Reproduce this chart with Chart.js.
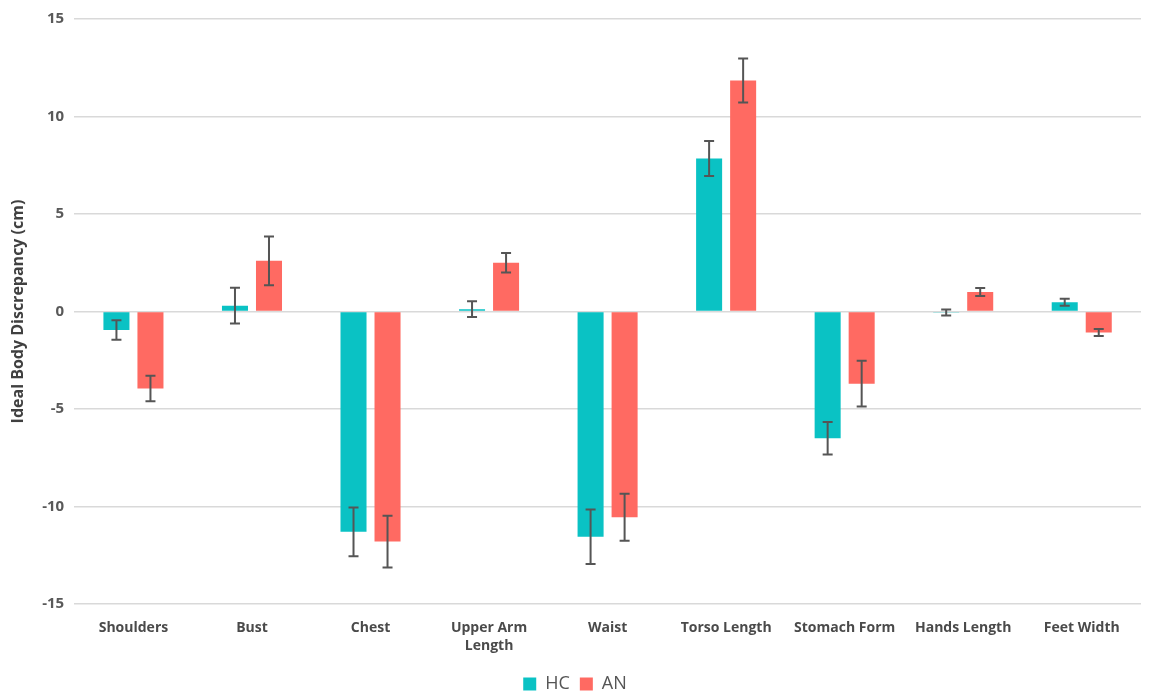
<!DOCTYPE html>
<html>
<head>
<meta charset="utf-8">
<title>Ideal Body Discrepancy</title>
<script src="https://cdn.jsdelivr.net/npm/chart.js@4"></script>
<style>
  html, body { margin: 0; padding: 0; background: #fff; }
  #wrap { width: 1152px; height: 693px; position: relative; }
</style>
</head>
<body>
<div id="wrap"><canvas id="grafico"></canvas></div>
<script>
/* --------------- datos --------------- */
const labels = ['Shoulders', 'Bust', 'Chest', ['Upper Arm', 'Length'], 'Waist', 'Torso Length', 'Stomach Form', 'Hands Length', 'Feet Width'];
const HC = [-0.95, 0.3, -11.3, 0.12, -11.55, 7.85, -6.5, -0.05, 0.47];
const HC_ERR = [0.5, 0.92, 1.25, 0.4, 1.4, 0.9, 0.83, 0.15, 0.18];
const AN = [-3.95, 2.6, -11.8, 2.5, -10.55, 11.85, -3.7, 1.0, -1.08];
const AN_ERR = [0.65, 1.25, 1.33, 0.5, 1.2, 1.13, 1.17, 0.2, 0.18];
const yTicks = [-15, -10, -5, 0, 5, 10, 15];

/* --------------- barras de error --------------- */
const barrasError = {
    id: 'barrasError',
    afterDatasetsDraw(chart) {
        const ctx = chart.ctx;
        const y = chart.scales.y;
        chart.data.datasets.forEach((ds, i) => {
            const meta = chart.getDatasetMeta(i);
            meta.data.forEach((bar, j) => {
                const v = ds.data[j], e = ds.errores[j];
                const top = y.getPixelForValue(v + e);
                const bot = y.getPixelForValue(v - e);
                ctx.save();
                ctx.strokeStyle = '#555555';
                ctx.lineWidth = 2;
                ctx.beginPath();
                ctx.moveTo(bar.x, top); ctx.lineTo(bar.x, bot);
                ctx.moveTo(bar.x - 5, top); ctx.lineTo(bar.x + 5, top);
                ctx.moveTo(bar.x - 5, bot); ctx.lineTo(bar.x + 5, bot);
                ctx.stroke();
                ctx.restore();
            });
        });
    }
};

document.addEventListener('DOMContentLoaded', () => {
    const data = {
        labels: labels,
        datasets: [
            {
                label: 'HC',
                data: HC,
                errores: HC_ERR,
                backgroundColor: '#0AC2C4',
                barPercentage: 0.765,
                categoryPercentage: 0.574
            },
            {
                label: 'AN',
                data: AN,
                errores: AN_ERR,
                backgroundColor: '#FF6A62',
                barPercentage: 0.765,
                categoryPercentage: 0.574
            }
        ]
    };

    const config = {
        responsive: true,
        maintainAspectRatio: false,
        animation: false,
        // el relleno inferior negativo baja la leyenda al borde
        layout: { padding: { top: 0, right: 11, left: 9, bottom: -10 } },
        scales: {
            x: {
                grid: { display: false },
                border: { display: false },
                afterFit: (scale) => { scale.height = 61; },
                ticks: {
                    color: '#4a4a4a',
                    font: { family: 'Open Sans', size: 14, weight: 'bold', lineHeight: 1.3 },
                    maxRotation: 0,
                    padding: 7
                }
            },
            y: {
                min: -15,
                max: 15,
                afterBuildTicks: (axis) => { axis.ticks = yTicks.map(v => ({ value: v })); },
                grid: { color: '#d9d9d9', lineWidth: 1.5, drawTicks: false },
                border: { display: false },
                ticks: {
                    color: '#595959',
                    font: { family: 'Open Sans', size: 15, weight: 'bold' },
                    padding: 10
                },
                title: {
                    display: true,
                    text: 'Ideal Body Discrepancy (cm)',
                    color: '#404040',
                    font: { family: 'Open Sans', size: 16, weight: 'bold' },
                    padding: { top: 0, bottom: 4 }
                }
            }
        },
        plugins: {
            legend: {
                position: 'bottom',
                labels: {
                    boxWidth: 13,
                    boxHeight: 13,
                    color: '#555555',
                    padding: 10,
                    font: { family: 'Open Sans', size: 18 }
                }
            },
            tooltip: { enabled: false }
        }
    };

    new Chart(document.getElementById('grafico'), {
        type: 'bar',
        data: data,
        options: config,
        plugins: [barrasError]
    });
});
</script>
</body>
</html>
